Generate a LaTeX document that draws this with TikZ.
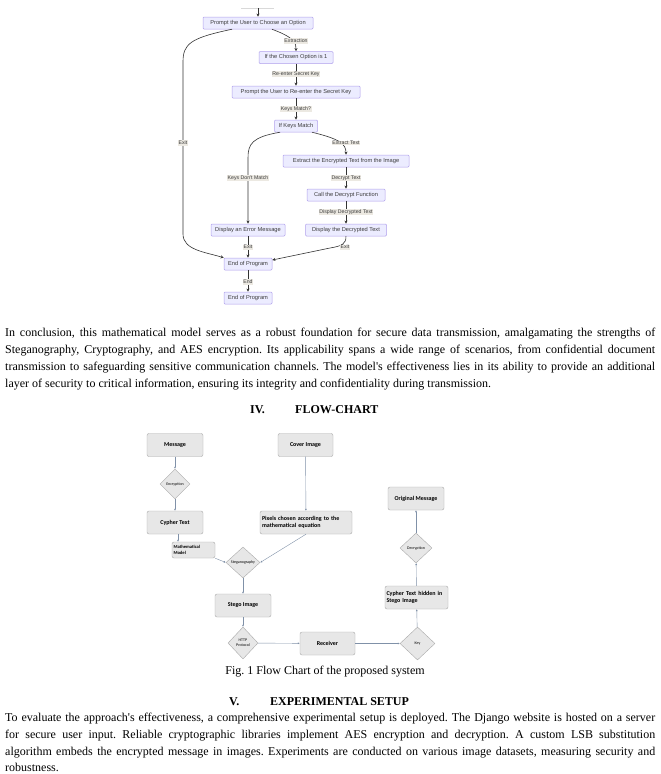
\documentclass[tikz,border=0pt]{standalone}
\usepackage{fontspec}
\setmainfont{Liberation Serif}
\newfontfamily\bodyfont{Liberation Serif}
\newfontfamily\mermaidfont{Liberation Sans}
\newfontfamily\chartfont{Carlito}
\usetikzlibrary{shapes.geometric,arrows.meta}

\definecolor{mmfill}{RGB}{236,236,255}
\definecolor{mmborder}{RGB}{176,160,236}
\definecolor{mmtext}{RGB}{60,60,60}
\definecolor{mmline}{RGB}{51,51,51}
\definecolor{mmlabel}{RGB}{236,233,226}
\definecolor{gfill}{RGB}{231,231,231}
\definecolor{gborder}{RGB}{170,170,170}
\definecolor{glinecol}{RGB}{128,145,168}

\frenchspacing

\begin{document}
\begin{tikzpicture}
  [x=1pt,y=-1pt,
   box/.style={draw=mmborder,fill=mmfill,rounded corners=1pt,line width=0.5pt,
     font=\mermaidfont\fontsize{5.7}{6.5}\selectfont,text=mmtext,inner sep=0pt,minimum height=12pt},
   lbl/.style={fill=mmlabel,inner sep=0.6pt,font=\mermaidfont\fontsize{5.2}{6}\selectfont,text=mmtext},
   flow/.style={draw=mmline,line width=0.6pt,-{Stealth[length=3.2pt,width=3pt]}},
   gbox/.style={draw=gborder,fill=gfill,rounded corners=2pt,line width=0.4pt,inner sep=1pt,
     font=\chartfont\bfseries\fontsize{6}{7}\selectfont,minimum height=23pt},
   gdia/.style={diamond,draw=gborder,fill=gfill,line width=0.4pt,inner sep=0pt,aspect=1,
     font=\chartfont\fontsize{4}{4.6}\selectfont,align=center},
   glink/.style={draw=glinecol,line width=0.4pt,-{Latex[length=2pt,width=2pt]}},
   body/.style={anchor=base west,inner sep=0pt,font=\bodyfont\fontsize{12}{17}\selectfont},
   head/.style={anchor=base west,inner sep=0pt,font=\bodyfont\bfseries\fontsize{12}{14}\selectfont}]

  \fill[white] (0,0) rectangle (661,774);
  \useasboundingbox (0,0) rectangle (661,774);

  % upper chart
  \coordinate (stubL) at (241,8);
  \coordinate (stubR) at (274,8);
  \coordinate (stub) at (258,8);
  \draw[gray!30,line width=0.5pt] (stubL) -- (stubR);

  \node[box,minimum width=110pt] (p1) at (258,23) {Prompt the User to Choose an Option};
  \node[box,minimum width=74pt] (c1) at (296,57.5) {If the Chosen Option is 1};
  \node[box,minimum width=128pt] (p2) at (296,92) {Prompt the User to Re-enter the Secret Key};
  \node[box,minimum width=43pt] (km) at (296,126) {If Keys Match};
  \node[box,minimum width=126pt] (ex) at (346,161) {Extract the Encrypted Text from the Image};
  \node[box,minimum width=78pt] (df) at (346,195) {Call the Decrypt Function};
  \node[box,minimum width=81pt] (dd) at (346,230) {Display the Decrypted Text};
  \node[box,minimum width=74pt] (err) at (248,230) {Display an Error Message};
  \node[box,minimum width=48pt] (end1) at (248,264) {End of Program};
  \node[box,minimum width=48pt] (end2) at (248,298) {End of Program};

  \foreach \from/\to in {stub/p1,c1/p2,p2/km,ex/df,df/dd,err/end1,end1/end2}
    \draw[flow] (\from) -- (\to);

  \draw[flow] ([xshift=14pt]p1.south) .. controls (296,38) and (296,44) .. (c1.north);
  \draw[flow] ([xshift=-26pt]p1.south) .. controls (190,38) and (183,44) .. (183,62)
    -- (183,234) .. controls (183,250) and (205,252) .. (end1.north west);
  \draw[flow] ([xshift=-16pt]km.south) .. controls (252,137) and (248,144) .. (248,158) -- (err.north);
  \draw[flow] ([xshift=16pt]km.south) .. controls (340,139) and (346,144) .. (ex.north);
  \draw[flow] (dd.south) .. controls (346,244) and (342,246) .. (330,248) -- ([yshift=4pt]end1.east);

  \node[lbl] (lExtr) at (296,41) {Extraction};
  \node[lbl] (lReen) at (296,74) {Re-enter Secret Key};
  \node[lbl] (lMatch) at (296,109) {Keys Match?};
  \node[lbl] (lExtT) at (346,143) {Extract Text};
  \node[lbl] (lDecT) at (346,178) {Decrypt Text};
  \node[lbl] (lDisp) at (346,212) {Display Decrypted Text};
  \node[lbl] (lNoMatch) at (248,178) {Keys Don't Match};
  \node[lbl] (lExitA) at (183,143) {Exit};
  \node[lbl] (lExitB) at (248,247) {Exit};
  \node[lbl] (lExitC) at (345,247) {Exit};
  \node[lbl] (lEnd) at (248,282) {End};

  % paragraph one
  \node[body] (parAa) at (5,336) {\makebox[650pt][s]{In conclusion, this mathematical model serves as a robust foundation for secure data transmission, amalgamating the strengths of}};
  \node[body] (parAb) at (5,353) {\makebox[650pt][s]{Steganography, Cryptography, and AES encryption. Its applicability spans a wide range of scenarios, from confidential document}};
  \node[body] (parAc) at (5,370) {\makebox[650pt][s]{transmission to safeguarding sensitive communication channels. The model\textquotesingle s effectiveness lies in its ability to provide an additional}};
  \node[body] (parAd) at (5,387) {layer of security to critical information, ensuring its integrity and confidentiality during transmission.};

  \node[head] (secFour) at (250,413) {IV.};
  \node[head] (secFourT) at (295,413) {FLOW-CHART};

  % lower chart
  \node[gbox,minimum width=56pt] (msg) at (175,445) {Message};
  \node[gdia,minimum width=30pt,minimum height=30pt] (enc) at (175,484) {Encryption};
  \node[gbox,minimum width=56pt] (cy) at (175,522.5) {Cypher Text};
  \node[gbox,minimum width=55pt] (cov) at (305.5,445) {Cover Image};
  \node[gbox,minimum width=92pt,text width=88pt,align=left] (px) at (306,522.5) {Pixels chosen according to the mathematical equation};
  \node[gbox,minimum width=43pt,minimum height=16pt,text width=40pt,align=left,
    font=\chartfont\bfseries\fontsize{4.6}{5.4}\selectfont] (mm) at (193.5,550) {Mathematical Model};
  \node[gdia,minimum width=34pt,minimum height=31pt] (steg) at (243,562.5) {Steganography};
  \node[gbox,minimum width=56pt] (stego) at (243,605.5) {Stego Image};
  \node[gdia,minimum width=30pt,minimum height=32pt] (http) at (243,643) {HTTP\\Protocol};
  \node[gbox,minimum width=55pt] (rec) at (327.5,643.5) {Receiver};
  \node[gdia,minimum width=35pt,minimum height=33pt] (key) at (417.5,643.5) {Key};
  \node[gbox,minimum width=63pt,text width=60pt,align=left] (hid) at (416.5,597.5) {Cypher Text hidden in Stego Image};
  \node[gdia,minimum width=32pt,minimum height=30pt] (dec) at (416,548) {Decryption};
  \node[gbox,minimum width=56pt] (orig) at (416,498.5) {Original Message};

  \foreach \from/\to in {msg/enc,enc/cy,cov/px,steg/stego,stego/http,http/rec,rec/key,key/hid,hid/dec,dec/orig}
    \draw[glink] (\from) -- (\to);
  \draw[glink] ([xshift=3pt]cy.south) -- ([xshift=3pt]cy.south |- mm.north);
  \draw[glink] (mm.south east) -- (steg.west);
  \draw[glink] (px.south) -- (steg.east);

  \node[body,anchor=base] (caption) at (325,674) {Fig. 1 Flow Chart of the proposed system};

  \node[head] (secFive) at (229,705) {V.};
  \node[head] (secFiveT) at (270,705) {EXPERIMENTAL SETUP};

  % paragraph two
  \node[body] (parBa) at (5,721) {\makebox[650pt][s]{To evaluate the approach\textquotesingle s effectiveness, a comprehensive experimental setup is deployed. The Django website is hosted on a server}};
  \node[body] (parBb) at (5,738) {\makebox[650pt][s]{for secure user input. Reliable cryptographic libraries implement AES encryption and decryption. A custom LSB substitution}};
  \node[body] (parBc) at (5,755) {\makebox[650pt][s]{algorithm embeds the encrypted message in images. Experiments are conducted on various image datasets, measuring security and}};
  \node[body] (parBd) at (5,771) {robustness.};

\end{tikzpicture}
\end{document}
